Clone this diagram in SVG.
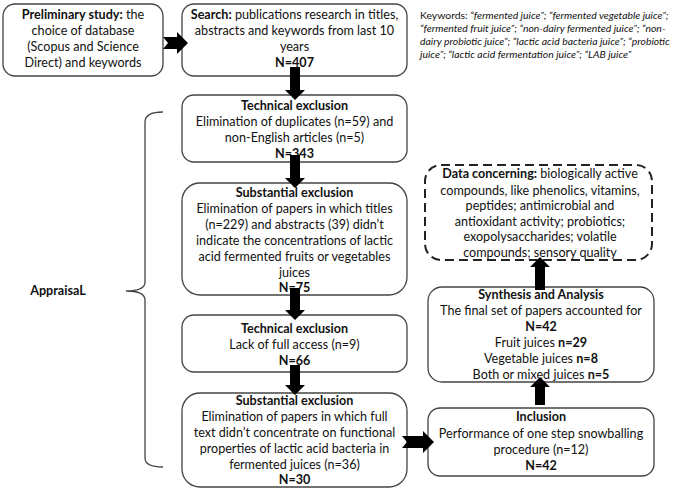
<svg xmlns="http://www.w3.org/2000/svg" width="685" height="492" viewBox="0 0 685 492">
<style>
.box{fill:#fff;stroke:#444;stroke-width:1.3}
.dash{fill:#fff;stroke:#222;stroke-width:2;stroke-dasharray:9 5}
text{font-family:Lato,"Liberation Sans",sans-serif;font-size:12.6px;fill:#111;text-anchor:middle}
.b{font-weight:bold}
.kw{font-size:10.4px;text-anchor:start}
.it{font-style:italic}
.arr{fill:#000}
.brace{fill:none;stroke:#444;stroke-width:1.3}
</style>
<rect width="685" height="492" fill="#fff"/>
<g id="preliminary">
<rect class="box" x="3" y="4" width="160" height="72" rx="12"/>
<text x="83" y="19"><tspan class="b">Preliminary study:</tspan> the</text>
<text x="83" y="35">choice of database</text>
<text x="83" y="51">(Scopus and Science</text>
<text x="83" y="67">Direct) and keywords</text>
</g>
<g id="search">
<rect class="box" x="182" y="4" width="225" height="72" rx="12"/>
<text x="294.5" y="19"><tspan class="b">Search:</tspan> publications research in titles,</text>
<text x="294.5" y="35">abstracts and keywords from last 10</text>
<text x="294.5" y="51">years</text>
<text x="294.5" y="67" class="b">N=407</text>
</g>
<g id="keywords">
<text class="kw" x="420" y="19">Keywords: <tspan class="it">“fermented juice”; “fermented vegetable juice”;</tspan></text>
<text class="kw it" x="420" y="32">“fermented fruit juice”; “non-dairy fermented juice”; “non-</text>
<text class="kw it" x="420" y="45">dairy probiotic juice”; “lactic acid bacteria juice”; “probiotic</text>
<text class="kw it" x="420" y="58">juice”; “lactic acid fermentation juice”; “LAB juice”</text>
</g>
<g id="technical1">
<rect class="box" x="182" y="95" width="225" height="67" rx="12"/>
<text x="294.5" y="110" class="b">Technical exclusion</text>
<text x="294.5" y="126">Elimination of duplicates (n=59)  and</text>
<text x="294.5" y="142">non-English articles (n=5)</text>
<text x="294.5" y="158" class="b">N=343</text>
</g>
<g id="substantial1">
<rect class="box" x="182" y="183" width="225" height="112" rx="18"/>
<text x="294.5" y="197" class="b">Substantial exclusion</text>
<text x="294.5" y="213">Elimination of papers in which titles</text>
<text x="294.5" y="229">(n=229) and abstracts (39) didn’t</text>
<text x="294.5" y="245">indicate the concentrations of lactic</text>
<text x="294.5" y="261">acid fermented fruits or vegetables</text>
<text x="294.5" y="277">juices</text>
<text x="294.5" y="292" class="b">N=75</text>
</g>
<g id="technical2">
<rect class="box" x="182" y="315" width="225" height="57" rx="12"/>
<text x="294.5" y="333" class="b">Technical exclusion</text>
<text x="294.5" y="349">Lack of full access (n=9)</text>
<text x="294.5" y="365" class="b">N=66</text>
</g>
<g id="substantial2">
<rect class="box" x="182" y="393" width="225" height="94" rx="18"/>
<text x="294.5" y="405" class="b">Substantial exclusion</text>
<text x="294.5" y="421">Elimination of papers in which full</text>
<text x="294.5" y="437">text didn’t concentrate on functional</text>
<text x="294.5" y="453">properties of lactic acid bacteria in</text>
<text x="294.5" y="469">fermented juices (n=36)</text>
<text x="294.5" y="484" class="b">N=30</text>
</g>
<g id="inclusion">
<rect class="box" x="428" y="408" width="226" height="68" rx="12"/>
<text x="541" y="421" class="b">Inclusion</text>
<text x="541" y="438">Performance of one step snowballing</text>
<text x="541" y="454">procedure (n=12)</text>
<text x="541" y="470" class="b">N=42</text>
</g>
<g id="synthesis">
<rect class="box" x="428" y="287" width="226" height="95" rx="14"/>
<text x="541" y="299" class="b">Synthesis and Analysis</text>
<text x="541" y="315">The final set of papers accounted for</text>
<text x="541" y="331" class="b">N=42</text>
<text x="541" y="347">Fruit juices <tspan class="b">n=29</tspan></text>
<text x="541" y="363">Vegetable juices <tspan class="b">n=8</tspan></text>
<text x="541" y="379">Both or mixed juices <tspan class="b">n=5</tspan></text>
</g>
<g id="data">
<rect class="dash" x="425" y="165" width="227" height="95" rx="16"/>
<text x="540" y="178"><tspan class="b">Data concerning:</tspan> biologically active</text>
<text x="540" y="195">compounds, like phenolics, vitamins,</text>
<text x="540" y="210">peptides; antimicrobial and</text>
<text x="540" y="226">antioxidant activity; probiotics;</text>
<text x="540" y="241">exopolysaccharides; volatile</text>
<text x="540" y="257">compounds; sensory quality</text>
</g>
<g id="appraisal">
<path class="brace" d="M163,112 Q145,112 145,122 L145,282 Q145,291 126,291 Q145,291 145,300 L145,458 Q145,467 163,467"/>
<text x="58" y="295" class="b">AppraisaL</text>
</g>
<g id="connectors">
<polygon class="arr" points="163,37 177,37 177,32 188,43 177,54 177,49 163,49 168,43"/>
<polygon class="arr" points="290,67 300,67 300,90 305,90 295,100 285,90 290,90"/>
<polygon class="arr" points="290,155 300,155 300,178 305,178 295,188 285,178 290,178"/>
<polygon class="arr" points="290,288 300,288 300,310 305,310 295,320 285,310 290,310"/>
<polygon class="arr" points="290,365 300,365 300,385 305,385 295,395 285,385 290,385"/>
<polygon class="arr" points="402,436 423,436 423,431 434,442 423,453 423,448 402,448 407,442"/>
<polygon class="arr" points="535,405 545,405 545,387 550,387 540,377 530,387 535,387"/>
<polygon class="arr" points="535,290 545,290 545,267 550,267 540,257 530,267 535,267"/>
</g>
</svg>
